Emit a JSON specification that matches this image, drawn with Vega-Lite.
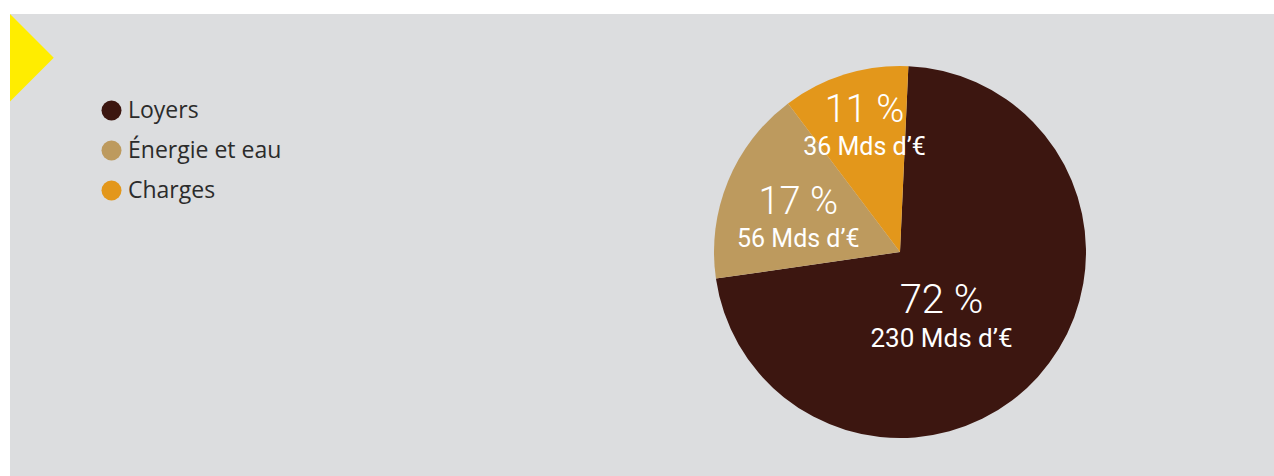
{
  "$schema": "https://vega.github.io/schema/vega-lite/v6.json",
  "width": 1264,
  "height": 462,
  "autosize": "none",
  "padding": {"left": 10, "top": 14, "right": 0, "bottom": 0},
  "background": "#ffffff",
  "view": {"fill": "#dcdddf", "stroke": null},
  "config": {"view": {"fill": "#dcdddf", "stroke": null}},
  "data": {"values": [
    {"cat": "Loyers", "pct": 72, "pctLabel": "72 %", "amount": "230 Mds d’€", "rank": 1},
    {"cat": "Énergie et eau", "pct": 17, "pctLabel": "17 %", "amount": "56 Mds d’€", "rank": 2},
    {"cat": "Charges", "pct": 11, "pctLabel": "11 %", "amount": "36 Mds d’€", "rank": 3}
  ]},
  "layer": [
    {
      "encoding": {
        "theta": {"field": "pct", "type": "quantitative", "stack": true, "scale": {"range": [0.045, 6.3282]}},
        "order": {"field": "rank", "type": "quantitative"}
      },
      "layer": [
        {
          "mark": {"type": "arc", "outerRadius": 186, "x": 890, "y": 238},
          "encoding": {
            "color": {
              "field": "cat", "type": "nominal",
              "scale": {"domain": ["Loyers", "Énergie et eau", "Charges"], "range": ["#3c1610", "#bd9a5e", "#e3971b"]},
              "legend": {
                "orient": "none", "legendX": 90, "legendY": 85, "title": null,
                "symbolType": "circle", "symbolSize": 400, "symbolStrokeWidth": 0, "symbolOpacity": 1,
                "labelFont": "Open Sans", "labelFontSize": 23, "labelColor": "#2b2b2b",
                "labelOffset": 5, "rowPadding": 16, "padding": 0
              }
            }
          }
        },
        {
          "mark": {"type": "text", "radius": 56, "x": 890, "y": 238, "dy": 22.9, "align": "center", "baseline": "alphabetic", "font": "Roboto", "fontSize": 40, "fontWeight": 300, "fill": "#ffffff"},
          "encoding": {"text": {"condition": {"test": "datum.rank === 1", "field": "pctLabel"}, "value": ""}}
        },
        {
          "mark": {"type": "text", "radius": 56, "x": 890, "y": 238, "dy": 56.9, "align": "center", "baseline": "alphabetic", "font": "Roboto", "fontSize": 26, "fill": "#ffffff"},
          "encoding": {"text": {"condition": {"test": "datum.rank === 1", "field": "amount"}, "value": ""}}
        },
        {
          "mark": {"type": "text", "radius": 110, "x": 890, "y": 238, "dy": 3.4, "align": "center", "baseline": "alphabetic", "font": "Roboto", "fontSize": 38, "fontWeight": 300, "fill": "#ffffff"},
          "encoding": {"text": {"condition": {"test": "datum.rank === 2", "field": "pctLabel"}, "value": ""}}
        },
        {
          "mark": {"type": "text", "radius": 110, "x": 890, "y": 238, "dy": 36.4, "align": "center", "baseline": "alphabetic", "font": "Roboto", "fontSize": 25, "fill": "#ffffff"},
          "encoding": {"text": {"condition": {"test": "datum.rank === 2", "field": "amount"}, "value": ""}}
        },
        {
          "mark": {"type": "text", "radius": 120, "x": 890, "y": 238, "dy": -14.9, "align": "center", "baseline": "alphabetic", "font": "Roboto", "fontSize": 38, "fontWeight": 300, "fill": "#ffffff"},
          "encoding": {"text": {"condition": {"test": "datum.rank === 3", "field": "pctLabel"}, "value": ""}}
        },
        {
          "mark": {"type": "text", "radius": 120, "x": 890, "y": 238, "dy": 18.1, "align": "center", "baseline": "alphabetic", "font": "Roboto", "fontSize": 25, "fill": "#ffffff"},
          "encoding": {"text": {"condition": {"test": "datum.rank === 3", "field": "amount"}, "value": ""}}
        }
      ]
    },
    {
      "data": {"values": [{"decor": "triangle"}]},
      "mark": {"type": "point", "shape": "M0,-1L1,0L0,1Z", "size": 7650, "x": 0, "y": 43.7, "filled": true, "fill": "#ffed00", "opacity": 1, "strokeWidth": 0},
      "encoding": {}
    }
  ]
}
